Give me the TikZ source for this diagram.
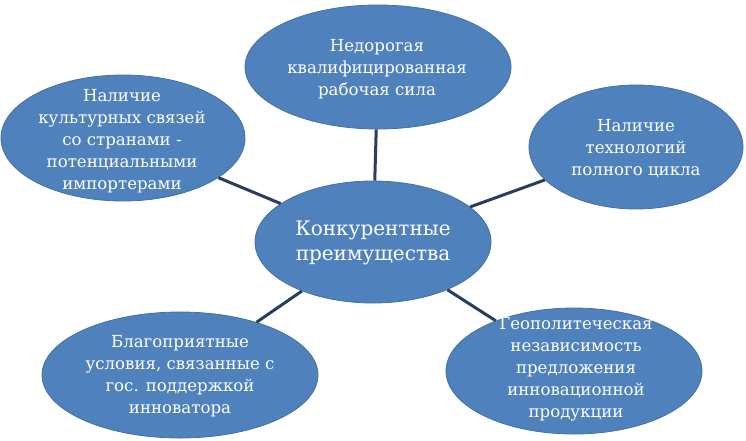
\documentclass[tikz,border=0pt]{standalone}
\usepackage{fontspec}
\setmainfont{DejaVu Serif}
\usetikzlibrary{shapes.geometric}

\definecolor{blobfill}{RGB}{79,129,189}
\definecolor{blobline}{RGB}{65,113,165}
\definecolor{linkcol}{RGB}{40,62,94}

\tikzset{
  blob/.style={ellipse, fill=blobfill, draw=blobline, line width=0.8pt, inner sep=0pt},
  blobtext/.style={text=white, align=center, font=\fontsize{16.6}{22}\selectfont},
  maintext/.style={text=white, align=center, font=\fontsize{20}{24.5}\selectfont},
  link/.style={draw=linkcol, line width=3pt}
}

\begin{document}
\begin{tikzpicture}[x=1pt, y=-1pt]

\useasboundingbox (0,0) rectangle (746,440);

\node[blob, minimum width=236pt, minimum height=122pt] (core) at (373,242) {};
\node[blob, minimum width=266pt, minimum height=124pt] (top) at (378,67) {};
\node[blob, minimum width=244pt, minimum height=126pt] (culture) at (123,138) {};
\node[blob, minimum width=214pt, minimum height=124pt] (tech) at (636,147) {};
\node[blob, minimum width=276pt, minimum height=126pt] (support) at (180,375) {};
\node[blob, minimum width=256pt, minimum height=126pt] (geo) at (574,371) {};

\draw[link] (core) -- (top);
\draw[link] (core) -- (culture);
\draw[link] (core) -- (tech);
\draw[link] (core) -- (support);
\draw[link] (core) -- (geo);

\node[maintext] (coretxt) at (373,243) {Конкурентные\\преимущества};
\node[blobtext] (toptxt) at (377,69) {Недорогая\\квалифицированная\\рабочая сила};
\node[blobtext] (culturetxt) at (122,141) {Наличие\\культурных связей\\со странами -\\потенциальными\\импортерами};
\node[blobtext] (techtxt) at (636,149) {Наличие\\технологий\\полного цикла};
\node[blobtext] (supporttxt) at (180,376) {Благоприятные\\условия, связанные с\\гос. поддержкой\\инноватора};
\node[blobtext] (geotxt) at (576,369) {Геополитеческая\\независимость\\предложения\\инновационной\\продукции};

\end{tikzpicture}
\end{document}
